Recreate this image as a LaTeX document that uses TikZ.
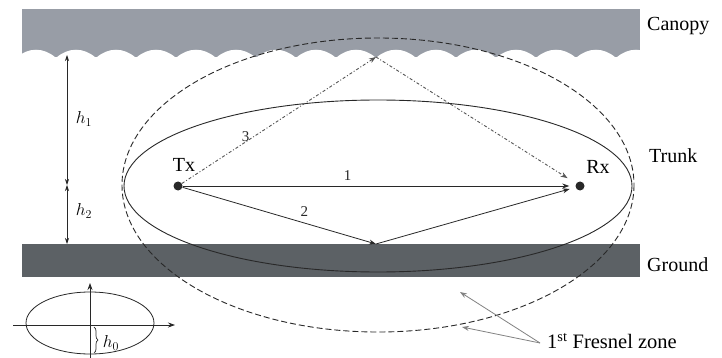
\documentclass[tikz,border=0pt]{standalone}
\usepackage{fontspec}
\setmainfont{Liberation Serif}
\usetikzlibrary{arrows.meta,decorations.pathreplacing}
\definecolor{canopygray}{RGB}{152,157,166}
\definecolor{groundgray}{RGB}{92,97,101}
\definecolor{inkgray}{RGB}{40,40,40}
\definecolor{raygray}{RGB}{85,85,85}
\definecolor{pointergray}{RGB}{130,130,130}
\begin{document}
\begin{tikzpicture}[x=1pt,y=-1pt,
  lbl/.style={inner sep=0pt,font=\fontsize{20}{22}\selectfont},
  biglbl/.style={inner sep=0pt,font=\fontsize{20}{22}\selectfont},
  hlbl/.style={inner sep=0pt,font=\fontsize{18}{20}\selectfont},
  numlbl/.style={inner sep=0pt,text=inkgray,font=\fontsize{15}{17}\selectfont},
  dotnode/.style={circle,fill=inkgray,inner sep=0pt,minimum size=9pt},
  tip/.style={-{Stealth[length=7pt,width=5pt]}},
  ray/.style={inkgray,line width=0.8pt,tip},
  ray3/.style={raygray,line width=0.9pt,dash pattern=on 3pt off 2pt on 1pt off 2pt,tip},
  dim/.style={inkgray,line width=0.7pt,{Stealth[length=6pt,width=4pt]}-{Stealth[length=6pt,width=4pt]}},
  axis/.style={inkgray,line width=0.8pt,-{Stealth[length=7pt,width=5pt]}},
  pointer/.style={pointergray,line width=0.8pt,-{Stealth[length=7pt,width=5pt]}}
]
\useasboundingbox (0,0) rectangle (722,358);
\fill[white] (0,0) rectangle (722,358);
% canopy band with wavy lower edge
\fill[canopygray] (22,9) rectangle (640,57);
\begin{scope}
  \clip (22,0) rectangle (640,60);
  \foreach \c in {-24,16,...,616} {
    \fill[white] (\c+40,58) .. controls (\c+28,47) and (\c+12,47) .. (\c,58) -- cycle;
  }
\end{scope}
% ground band
\fill[groundgray] (22,244) rectangle (640,277);
% ellipses
\draw[inkgray,line width=0.9pt] (378,186) ellipse [x radius=254, y radius=86];
\draw[inkgray,line width=0.9pt,dash pattern=on 6pt off 3pt] (378,185) ellipse [x radius=256, y radius=147];
% labels of layers
\node[lbl,anchor=west] (canopy) at (647,26) {Canopy};
\node[lbl,anchor=west] (trunk) at (649,156) {Trunk};
\node[lbl,anchor=west] (ground) at (647,265) {Ground};
% Tx and Rx
\node[dotnode] (tx) at (178,186) {};
\node[dotnode] (rx) at (580,186) {};
\node[biglbl] (txl) at (184,165) {Tx};
\node[biglbl] (rxl) at (598,167) {Rx};
\coordinate (gnd) at (376,244);
\coordinate (cnp) at (376,57);
% rays
\draw[ray,shorten >=6pt] (tx) -- (rx) node[numlbl,pos=0.42,above=5pt] (n1) {1};
\draw[ray] (tx) -- (gnd) node[numlbl,pos=0.63,above=6pt] (n2) {2};
\draw[ray,shorten >=6pt] (gnd) -- (rx);
\draw[ray3] (tx) -- (cnp) node[numlbl,pos=0.37,left=4pt] (n3) {3};
\draw[ray3,shorten >=10pt] (cnp) -- (rx);
% heights
\coordinate (htop) at (67,55);
\coordinate (hmid) at (67,185);
\coordinate (hbot) at (67,244);
\draw[dim] (htop) -- (hmid);
\draw[dim] (hmid) -- (hbot);
\node[hlbl] (h1) at (84,119) {$h_1$};
\node[hlbl] (h2) at (84,211) {$h_2$};
% small trunk cross-section
\draw[inkgray,line width=0.8pt] (90,323) ellipse [x radius=64, y radius=31];
\coordinate (axl) at (13,325);
\coordinate (axr) at (175,325);
\coordinate (axb) at (90,358);
\coordinate (axt) at (90,283);
\draw[axis] (axl) -- (axr);
\draw[axis] (axb) -- (axt);
\coordinate (bra) at (94,327);
\coordinate (brb) at (94,353);
\draw[inkgray,line width=0.7pt,decorate,decoration={brace,amplitude=4pt}] (bra) -- (brb);
\node[hlbl] (h0) at (111,343) {$h_0$};
% Fresnel zone label
\node[lbl,font=\fontsize{20.5}{22}\selectfont,anchor=west] (fz) at (547,341) {1\textsuperscript{st} Fresnel zone};
\coordinate (fzs) at (540,343);
\coordinate (fza) at (460,292);
\coordinate (fzb) at (462,327);
\draw[pointer] (fzs) -- (fza);
\draw[pointer] (fzs) -- (fzb);
\end{tikzpicture}
\end{document}
